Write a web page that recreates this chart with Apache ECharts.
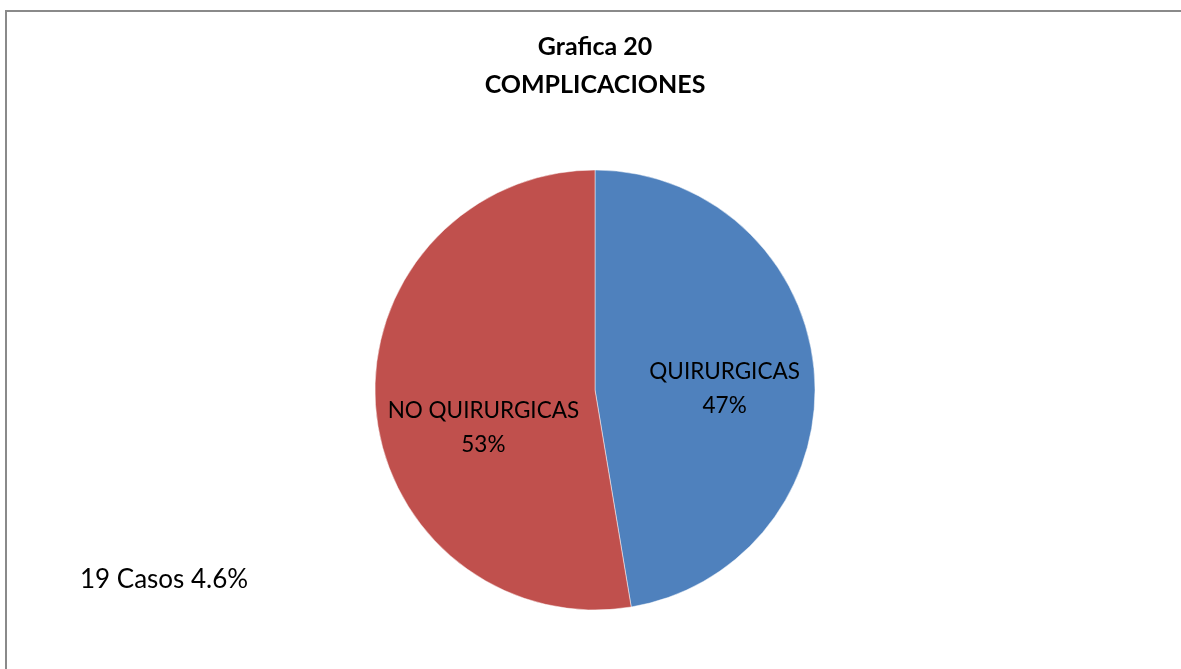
<!DOCTYPE html>
<html>
<head>
<meta charset="utf-8">
<script src="https://cdn.jsdelivr.net/npm/echarts@6/dist/echarts.min.js"></script>
<style>
html,body{margin:0;padding:0;background:#fff;}
#c{width:1181px;height:669px;}
</style>
</head>
<body>
<div id="c"></div>
<script>
const categories = ['QUIRURGICAS', 'NO QUIRURGICAS'];
const values = [9, 10];
const colors = ['#4F81BD', '#C0504D'];
const labelOffsets = [[17, 8], [1, 28]];
const titleLines = ['Grafica 20', 'COMPLICACIONES'];
const noteText = '19 Casos 4.6%';

const FONT = 'Lato, "Open Sans", sans-serif';
const chart = echarts.init(document.getElementById('c'), null, {renderer: 'canvas'});
chart.setOption({
  backgroundColor: '#fff',
  animation: false,
  title: {
    text: titleLines.join('\n'),
    left: 595,
    top: 28,
    padding: 0,
    textAlign: 'center',
    textStyle: {fontFamily: FONT, fontWeight: 'bold', fontSize: 25, color: '#000', lineHeight: 38}
  },
  graphic: [
    {type: 'rect', shape: {x: 6, y: 11, width: 1200, height: 700}, style: {fill: 'none', stroke: '#8a8a8a', lineWidth: 2}, silent: true},
    {type: 'text', x: 80, y: 580, style: {text: noteText, fontFamily: FONT, fontSize: 26, fill: '#000', verticalAlign: 'middle'}}
  ],
  series: [{
    type: 'pie',
    center: [595, 390],
    radius: 220,
    startAngle: 90,
    clockwise: true,
    itemStyle: {borderColor: 'rgba(255,255,255,0.6)', borderWidth: 0.8},
    label: {
      position: 'inside',
      fontFamily: FONT,
      fontSize: 22.5,
      color: '#000',
      lineHeight: 34,
      formatter: p => p.name + '\n' + Math.round(p.percent) + '%'
    },
    labelLine: {show: false},
    data: categories.map((n, i) => ({
      name: n, value: values[i],
      itemStyle: {color: colors[i]},
      label: {offset: labelOffsets[i]}
    }))
  }]
});
</script>
</body>
</html>
